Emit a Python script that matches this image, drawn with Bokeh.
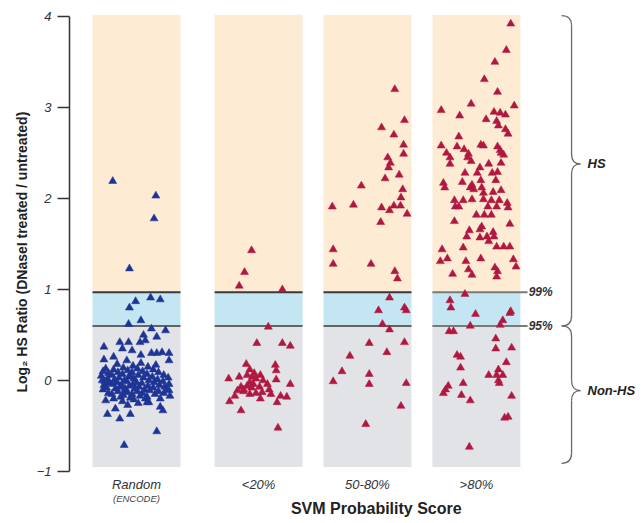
from bokeh.plotting import figure
from bokeh.models import Range1d, FixedTicker, ColumnDataSource, Title
from bokeh.embed import file_html
from bokeh.resources import INLINE
from bokeh.core.properties import value

# ---------------- data ----------------
categories = ["Random", "<20%", "50-80%", ">80%"]
category_notes = ["(ENCODE)", "", "", ""]
x_title = "SVM Probability Score"
y_title = "Log\u2082 HS Ratio (DNaseI treated / untreated)"
y_ticks = [-1, 0, 1, 2, 3, 4]
threshold_values = [0.97, 0.60]
threshold_labels = ["99%", "95%"]
region_labels = ["HS", "Non-HS"]

# horizontal jitter inside each panel (0 = left edge, 1 = right edge) and log2 ratio
random_frac = [0.23,0.72,0.70,0.42,0.49,0.66,0.77,0.42,0.55,0.41,0.67,0.83,0.73,0.58,0.13,0.13,0.31,0.41,0.54,0.60,
               0.73,0.67,0.79,0.87,0.87,0.34,0.45,0.55,0.24,0.39,0.17,0.31,0.43,0.26,0.77,0.80,0.73,0.36,0.62,0.87,
               0.12,0.10,0.11,0.13,0.12,0.18,0.17,0.19,0.16,0.18,0.24,0.22,0.25,0.23,0.26,0.22,0.24,0.29,0.30,0.28,
               0.31,0.29,0.32,0.35,0.34,0.36,0.33,0.37,0.35,0.34,0.40,0.41,0.39,0.42,0.40,0.43,0.46,0.45,0.47,0.46,
               0.48,0.45,0.47,0.51,0.52,0.50,0.53,0.51,0.54,0.52,0.57,0.58,0.56,0.59,0.57,0.60,0.63,0.62,0.64,0.63,
               0.65,0.62,0.69,0.68,0.70,0.69,0.71,0.75,0.74,0.76,0.75,0.77,0.81,0.80,0.82,0.81,0.86,0.87,0.85,0.88,
               0.28,0.55,0.72,0.40,0.64,0.15,0.15,0.14,0.43,0.37]
random_val = [2.19,2.03,1.78,1.23,0.87,0.91,0.89,0.80,0.66,0.62,0.57,0.55,0.48,0.50,0.37,0.23,0.42,0.42,0.42,0.44,
              0.30,0.30,0.31,0.30,0.22,0.35,0.33,0.28,0.26,0.22,-0.37,-0.42,-0.37,-0.31,-0.29,-0.33,-0.56,-0.71,-0.24,-0.11,
              0.10,0.05,0.00,-0.05,-0.10,0.08,0.02,-0.03,-0.08,-0.14,0.12,0.06,0.01,-0.04,-0.09,-0.15,-0.20,0.09,0.03,-0.02,
              -0.07,-0.12,-0.18,0.14,0.07,0.00,-0.05,-0.11,-0.16,-0.23,0.11,0.04,-0.01,-0.06,-0.13,-0.19,0.16,0.09,0.02,-0.04,
              -0.09,-0.15,-0.21,0.13,0.06,-0.02,-0.07,-0.12,-0.17,-0.25,0.10,0.03,-0.03,-0.10,-0.14,-0.20,0.15,0.07,0.00,-0.06,
              -0.11,-0.18,0.12,0.04,-0.02,-0.08,-0.15,0.09,0.01,-0.05,-0.12,-0.20,0.06,-0.01,-0.07,-0.14,0.03,-0.04,-0.10,-0.17,
              0.18,0.19,0.17,-0.27,-0.24,-0.22,0.13,-0.01,0.05,-0.09]

low_frac = [0.42,0.34,0.28,0.77,0.61,0.48,0.77,0.86,0.36,0.69,0.40,0.70,0.16,0.28,0.37,0.43,0.47,0.70,0.86,0.30,
            0.37,0.44,0.51,0.60,0.62,0.26,0.33,0.40,0.47,0.54,0.23,0.64,0.75,0.82,0.52,0.17,0.71,0.30,0.72,
            0.40,0.45,0.42,0.55,0.33,0.52]
low_val = [1.43,1.19,1.04,1.00,0.59,0.41,0.41,0.38,0.18,0.17,0.12,0.11,0.02,0.04,0.06,0.04,0.02,0.01,-0.04,-0.07,
           -0.06,-0.04,-0.07,-0.04,-0.10,-0.11,-0.10,-0.15,-0.14,-0.13,-0.17,-0.15,-0.17,-0.18,-0.20,-0.23,-0.24,-0.33,-0.52,
           -0.02,0.08,-0.08,0.00,-0.12,0.06]

mid_frac = [0.81,0.92,0.66,0.80,0.91,0.91,0.73,0.76,0.74,0.86,0.70,0.43,0.90,0.88,0.10,0.34,0.66,0.80,0.875,0.75,
            0.95,0.65,0.11,0.11,0.54,0.81,0.84,0.75,0.625,0.92,0.94,0.67,0.75,0.52,0.92,0.72,0.30,0.21,0.52,0.11,
            0.52,0.94,0.88,0.48]
mid_val = [3.20,2.86,2.78,2.70,2.59,2.49,2.45,2.39,2.34,2.26,2.22,2.14,2.10,2.01,1.91,1.93,1.90,1.92,1.92,1.87,
           1.83,1.74,1.44,1.28,1.28,1.20,1.12,0.91,0.77,0.80,0.77,0.62,0.56,0.41,0.42,0.31,0.27,0.10,0.07,-0.01,
           -0.04,-0.03,-0.28,-0.48]

high_frac = [0.89,0.84,0.71,0.59,0.74,0.10,0.44,0.31,0.93,0.70,0.77,0.83,0.61,0.73,0.75,0.83,0.86,0.30,0.10,0.16,
             0.28,0.36,0.41,0.55,0.58,0.74,0.77,0.81,
             0.20,0.20,0.40,0.44,0.78,0.78,0.54,0.64,0.51,0.37,0.68,0.74,0.72,0.55,0.34,0.125,0.14,0.45,0.43,0.47,
             0.56,0.58,0.69,0.78,0.25,0.35,0.45,0.58,0.67,0.76,0.85,0.26,0.30,0.63,0.73,0.86,0.50,0.59,0.67,0.25,
             0.88,0.56,0.54,0.42,0.69,0.39,0.54,0.62,0.64,0.70,0.35,0.11,0.73,0.81,0.88,0.17,0.09,0.55,0.38,0.92,
             0.95,0.23,0.41,0.45,0.71,0.74,0.73,
             0.37,0.20,0.21,0.49,0.89,0.88,0.80,0.77,0.43,0.19,0.24,0.72,0.72,0.90,0.28,0.32,0.84,0.32,0.75,0.64,
             0.73,0.80,0.75,0.76,0.35,0.18,0.15,0.125,0.33,0.90,0.43,0.82,0.86,0.42]
high_val = [3.92,3.63,3.50,3.31,3.17,2.97,3.04,2.91,3.02,2.95,2.94,2.92,2.87,2.85,2.80,2.76,2.71,2.68,2.58,2.50,
            2.57,2.54,2.49,2.59,2.58,2.57,2.53,2.48,
            2.45,2.38,2.45,2.41,2.50,2.39,2.34,2.38,2.28,2.28,2.28,2.29,2.20,2.20,2.18,2.17,2.12,2.15,2.12,2.10,
            2.12,2.06,2.07,2.09,1.98,1.98,1.99,1.99,1.98,1.98,1.95,1.91,1.91,1.91,1.91,1.90,1.82,1.82,1.82,1.75,
            1.72,1.69,1.66,1.65,1.63,1.58,1.57,1.58,1.53,1.58,1.46,1.44,1.47,1.47,1.47,1.34,1.31,1.34,1.31,1.33,
            1.25,1.17,1.22,1.16,1.24,1.20,1.14,
            0.95,0.88,0.80,0.73,0.76,0.74,0.66,0.61,0.60,0.54,0.54,0.46,0.35,0.36,0.28,0.26,0.20,0.14,0.12,0.06,
            0.06,0.06,0.00,-0.03,-0.03,-0.06,-0.10,-0.14,-0.16,-0.17,-0.22,-0.41,-0.40,-0.73]

# ---------------- layout / style ----------------
group_pos = [1.0, 2.11, 3.1, 4.09]
half_w = 0.4
panel_top, panel_bottom = 4.02, -0.95
PEACH, BLUE_BAND, GRAY = "#fdebd4", "#c4e5f2", "#e1e3e7"
BLUE_MK, RED_MK = "#1f3596", "#b01840"
FONT = "Liberation Sans"

p = figure(width=643, height=523, x_range=Range1d(0.391, 5.609), y_range=Range1d(-1.571, 4.066),
           x_axis_location=None, output_backend="svg", toolbar_location=None,
           min_border_left=69, min_border_right=0, min_border_top=10, min_border_bottom=0)
p.xgrid.visible = False
p.ygrid.visible = False
p.outline_line_color = None
p.background_fill_color = "white"

# panels
lefts = [g - half_w for g in group_pos]
rights = [g + half_w for g in group_pos]
t99, t95 = threshold_values
p.quad(left=lefts, right=rights, bottom=[t99] * 4, top=[panel_top] * 4, fill_color=PEACH, line_color=None)
p.quad(left=lefts, right=rights, bottom=[t95] * 4, top=[t99] * 4, fill_color=BLUE_BAND, line_color=None)
p.quad(left=lefts, right=rights, bottom=[panel_bottom] * 4, top=[t95] * 4, fill_color=GRAY, line_color=None)

# threshold lines
line_right = rights[:3] + [rights[3] + 0.065]
p.segment(x0=lefts[:3], x1=line_right[:3], y0=[t99] * 3, y1=[t99] * 3, line_color="#3a3a3a", line_width=2)
p.segment(x0=lefts[:3], x1=line_right[:3], y0=[t95] * 3, y1=[t95] * 3, line_color="#3a3a3a", line_width=1.4)
p.segment(x0=[lefts[3]], x1=[line_right[3]], y0=[t99], y1=[t99], line_color="#7a7a7a", line_width=2)
p.segment(x0=[lefts[3]], x1=[line_right[3]], y0=[t95], y1=[t95], line_color="#7a7a7a", line_width=2)

# points
groups = [(random_frac, random_val, BLUE_MK), (low_frac, low_val, RED_MK),
          (mid_frac, mid_val, RED_MK), (high_frac, high_val, RED_MK)]
for (fr, vals, col), g in zip(groups, group_pos):
    xs = [g - half_w + f * 2 * half_w for f in fr]
    src = ColumnDataSource(dict(x=xs, y=vals))
    p.scatter("x", "y", source=src, marker="triangle", size=8, fill_color=col, line_color=col, line_width=0.5)

# threshold labels
p.text(x=[line_right[3] + 0.01] * 2, y=threshold_values, text=threshold_labels,
       text_font=value(FONT), text_font_size="12px", text_font_style="bold italic",
       text_color="#333333", text_align="left", text_baseline="middle")

# braces
def brace(y_top, y_bot, y_tip, xl=4.864, xv=4.955, xt=5.036, r=0.11):
    qs = [(xl, y_top, xv, y_top - r, xv, y_top),
          (xv, y_tip + r, xt, y_tip, xv, y_tip),
          (xt, y_tip, xv, y_tip - r, xv, y_tip),
          (xv, y_bot + r, xl, y_bot, xv, y_bot)]
    segs = [(xv, y_top - r, xv, y_tip + r), (xv, y_tip - r, xv, y_bot + r)]
    return qs, segs

for (yt, yb, ytip) in [(4.01, 0.60, 2.38), (0.60, -0.91, -0.11)]:
    qs, segs = brace(yt, yb, ytip)
    p.quadratic(x0=[q[0] for q in qs], y0=[q[1] for q in qs], x1=[q[2] for q in qs], y1=[q[3] for q in qs],
                cx=[q[4] for q in qs], cy=[q[5] for q in qs], line_color="#6a6a6a", line_width=1.3)
    p.segment(x0=[s[0] for s in segs], y0=[s[1] for s in segs], x1=[s[2] for s in segs], y1=[s[3] for s in segs],
              line_color="#6a6a6a", line_width=1.3)

p.text(x=[5.1, 5.1], y=[2.38, -0.11], text=region_labels, text_font=value(FONT), text_font_size="13px",
       text_font_style="bold italic", text_color="#222222", text_align="left", text_baseline="middle")

# category labels under the panels
p.text(x=group_pos, y=[-1.143] * 4, text=categories, text_font=value(FONT), text_font_size="13px",
       text_font_style="italic", text_color="#333333", text_align="center", text_baseline="middle")
p.text(x=group_pos, y=[-1.297] * 4, text=category_notes, text_font=value(FONT), text_font_size="9.5px",
       text_font_style="italic", text_color="#444444", text_align="center", text_baseline="middle")
p.text(x=[3.18], y=[-1.405], text=[x_title], text_font=value(FONT), text_font_size="16px",
       text_font_style="bold", text_color="#222222", text_align="center", text_baseline="middle")

# y axis
yax = p.yaxis[0]
yax.ticker = FixedTicker(ticks=y_ticks)
yax.bounds = (-1, 4)
yax.axis_line_color = "#333333"
yax.axis_line_width = 1.5
yax.major_tick_line_color = "#333333"
yax.major_tick_line_width = 1.5
yax.major_tick_out = 12
yax.major_tick_in = 0
yax.minor_tick_line_color = None
yax.major_label_standoff = 6
yax.major_label_text_font = FONT
yax.major_label_text_font_size = "13px"
yax.major_label_text_font_style = "italic"
yax.major_label_text_color = "#333333"

p.add_layout(Title(text=y_title, align="left", offset=131, standoff=8, text_font=FONT,
                   text_font_size="14px", text_font_style="bold", text_color="#222222"), "left")

open("out.html", "w").write(file_html(p, INLINE))
